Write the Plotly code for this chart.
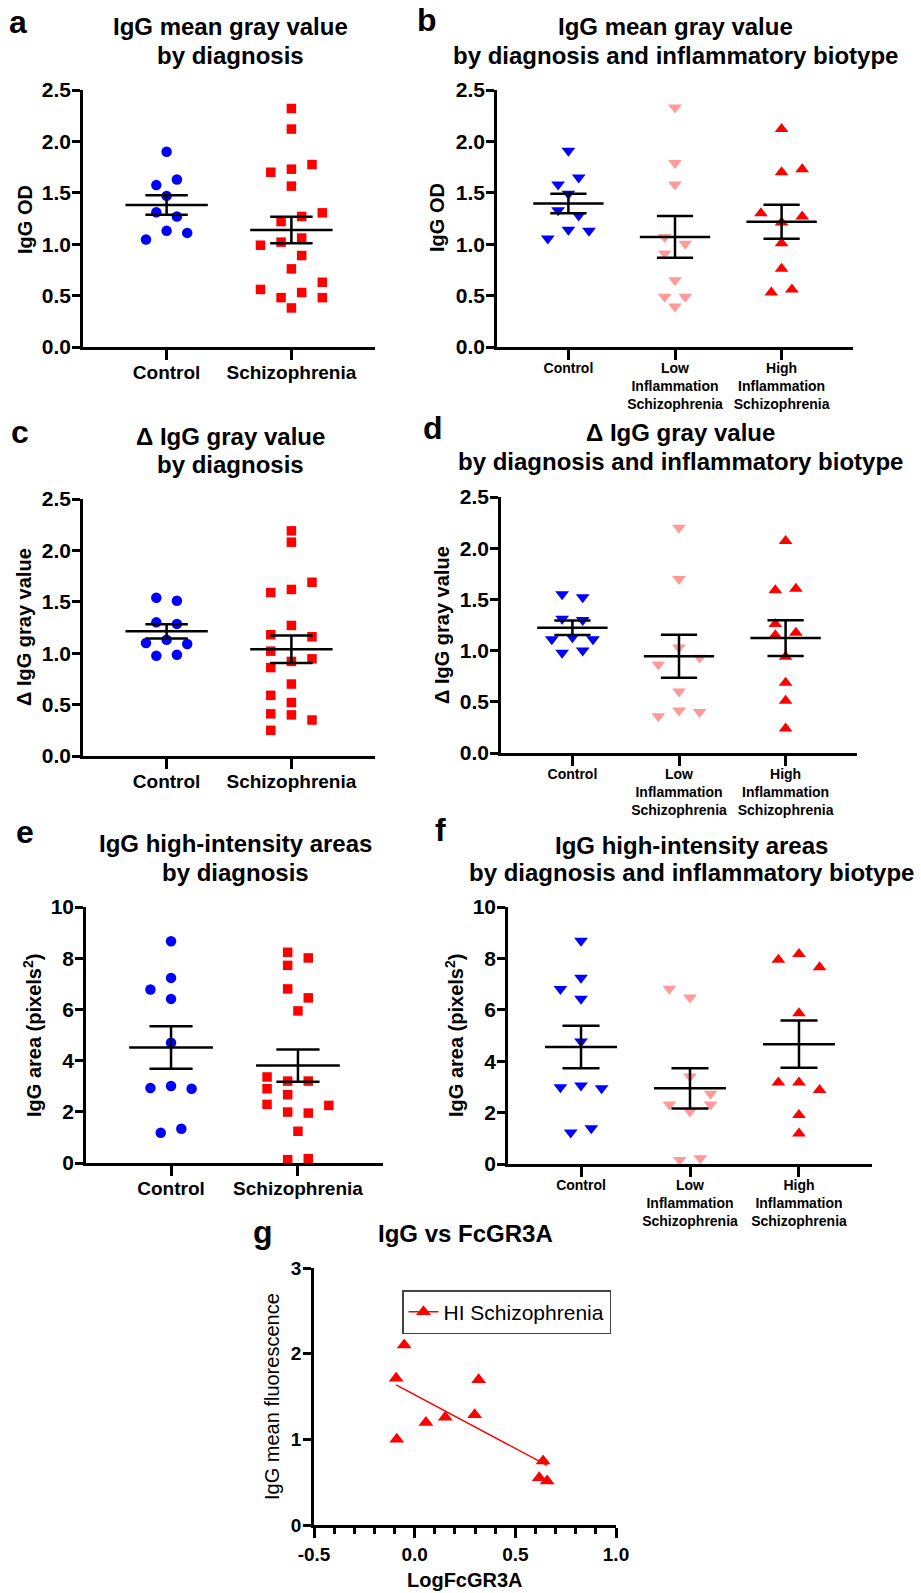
import numpy as np
import plotly.graph_objects as go

# ---------------- data ----------------
cats_2 = ["Control", "Schizophrenia"]
cats_3 = ["Control", "Low<br>Inflammation<br>Schizophrenia", "High<br>Inflammation<br>Schizophrenia"]

# panel a : IgG OD by diagnosis  (values + dot-plot column index)
a_ctrl = [1.90, 1.575, 1.63, 1.47, 1.31, 1.27, 1.13, 1.11, 1.045]
a_ctrl_col = [0, -1, 1, 0, -1, 1, 0, 2, -2]
a_scz = [2.32, 2.12, 1.70, 1.73, 1.775, 1.565, 1.22, 1.27, 1.305, 0.99,
         1.02, 1.06, 0.89, 0.76, 0.63, 0.56, 0.48, 0.53, 0.48, 0.38]
a_scz_col = [0, 0, -2, 0, 2, 0, -1, 1, 3, -3, -1, 1, 1, 0, 3, -3, -1, 1, 3, 0]

# panel b : IgG OD by biotype
b_ctrl = [1.91, 1.58, 1.65, 1.49, 1.33, 1.28, 1.14, 1.13, 1.055]
b_ctrl_col = [0, -1, 1, 0, -1, 1, 0, 2, -2]
b_low = [2.33, 1.79, 1.58, 1.07, 1.005, 0.91, 0.65, 0.49, 0.49, 0.395]
b_low_col = [0, 0, 0, -1, 1, -1, 0, -1, 1, 0]
b_high = [2.12, 1.70, 1.73, 1.30, 1.21, 1.27, 1.01, 0.76, 0.53, 0.56]
b_high_col = [0, 0, 2, -2, 0, 2, 0, 0, -1, 1]

# panel c : delta IgG gray value by diagnosis
c_ctrl = [1.54, 1.51, 1.30, 1.285, 1.13, 1.10, 1.09, 0.975, 0.985]
c_ctrl_col = [-1, 1, -1, 1, 0, -2, 2, -1, 1]
c_scz = [2.19, 2.08, 1.69, 1.59, 1.62, 1.27, 1.18, 1.16, 1.02, 0.92,
         0.945, 0.86, 0.70, 0.59, 0.52, 0.41, 0.40, 0.35, 0.25]
c_scz_col = [0, 0, 2, -2, 0, 0, -2, 2, -2, 0, 2, -2, 0, -2, 0, -2, 0, 2, -2]

# panel d : delta IgG gray value by biotype
d_ctrl = [1.55, 1.52, 1.31, 1.30, 1.13, 1.11, 1.11, 0.98, 1.00]
d_ctrl_col = [-1, 1, -1, 1, 0, -2, 2, -1, 1]
d_low = [2.20, 1.70, 1.03, 0.93, 0.865, 0.60, 0.415, 0.40, 0.36]
d_low_col = [0, 0, 0, 2, -2, 0, 0, 2, -2]
d_high = [2.07, 1.59, 1.605, 1.26, 1.15, 1.175, 0.94, 0.685, 0.51, 0.24]
d_high_col = [0, -1, 1, -1, -1, 1, 0, 0, 0, 0]

# panel e : IgG high-intensity area by diagnosis
e_ctrl = [8.66, 7.23, 6.78, 6.41, 4.70, 2.93, 3.01, 2.90, 1.18, 1.34]
e_ctrl_col = [0, 0, -2, 0, 0, -2, 0, 2, -1, 1]
e_scz = [8.23, 8.01, 7.72, 6.80, 6.45, 5.94, 3.36, 3.20, 3.20, 2.90,
         2.67, 2.29, 2.25, 1.99, 1.95, 1.24, 0.13, 0.17]
e_scz_col = [-1, 1, -1, -1, 1, 0, -3, -1, 1, -3, -1, -3, 3, -1, 1, 0, -1, 1]

# panel f : IgG high-intensity area by biotype
f_ctrl = [8.69, 7.25, 6.81, 6.43, 4.77, 2.99, 3.05, 2.95, 1.23, 1.39]
f_ctrl_col = [0, 0, -2, 0, 0, -2, 0, 2, -1, 1]
f_low = [6.82, 6.48, 3.40, 2.73, 2.32, 2.32, 2.04, 0.16, 0.22]
f_low_col = [-2, 0, 0, 2, -2, 2, 0, -1, 1]
f_high = [8.17, 7.95, 7.66, 5.87, 3.17, 3.17, 2.88, 1.91, 1.19]
f_high_col = [0, -2, 2, 0, -2, 0, 2, 0, 0]

# panel g : IgG vs FcGR3A (HI schizophrenia)
g_logfc = [-0.092, -0.052, -0.089, 0.056, 0.152, 0.298, 0.318, 0.638, 0.619, 0.658]
g_igg = [1.714, 2.10, 1.00, 1.196, 1.258, 1.286, 1.695, 0.748, 0.553, 0.514]
g_xticks = [-0.5, 0.0, 0.5, 1.0]
g_xticktext = ["-0.5", "0.0", "0.5", "1.0"]
g_yticks = [0, 1, 2, 3]

# ---------------- style ----------------
W, H = 921, 1593
FONT = "Liberation Sans, Arial, Helvetica, sans-serif"
BLUE, RED, PINK = "#0000FF", "#FF0000", "#FF9A9A"
LW = 2.5
JIT_PX = 10.3
PAD = 0.67

fig = go.Figure()
layout = dict(width=W, height=H, margin=dict(l=0, r=0, t=0, b=0, pad=0, autoexpand=False),
              paper_bgcolor="white", plot_bgcolor="white", showlegend=True,
              template="none")
annotations = []


def dx(x0, x1):
    return [x0 / W, x1 / W]


def dy(y0, y1):
    return [1 - y1 / H, 1 - y0 / H]


def axis_common():
    return dict(showline=True, linecolor="black", linewidth=LW, ticks="outside",
                ticklen=8, tickwidth=LW, tickcolor="black", showgrid=False,
                zeroline=False, fixedrange=True, automargin=False, mirror=False)


def add_text(x, y, text, size, bold=True, angle=0):
    annotations.append(dict(x=x / W, y=1 - y / H, xref="paper", yref="paper",
                            text=text, showarrow=False, textangle=angle,
                            xanchor="center", yanchor="middle",
                            font=dict(family=FONT, size=size, color="black",
                                      weight="bold" if bold else "normal")))


def dot_panel(idx, box, ticktext, catsize, ymax, dtick, yfmt, groups):
    x0, x1, y0, y1 = box
    xa = "x" if idx == 1 else f"x{idx}"
    ya = "y" if idx == 1 else f"y{idx}"
    ncat = len(ticktext)
    rng = [-PAD, ncat - 1 + PAD]
    unit_px = (x1 - x0) / (rng[1] - rng[0])
    jit = JIT_PX / unit_px
    for gi, (vals, cols, color, sym, size) in enumerate(groups):
        xs = [gi + c * jit for c in cols]
        fig.add_trace(go.Scatter(x=xs, y=vals, mode="markers", xaxis=xa, yaxis=ya,
                                 marker=dict(color=color, symbol=sym, size=size, line_width=0),
                                 showlegend=False, cliponaxis=False, hoverinfo="y"))
    lx, ly = [], []
    for gi, (vals, cols, color, sym, size) in enumerate(groups):
        v = np.array(vals)
        m = v.mean()
        s = v.std(ddof=1) / np.sqrt(len(v))
        lx += [gi - 0.33, gi + 0.33, None, gi - 0.17, gi + 0.17, None,
               gi - 0.17, gi + 0.17, None, gi, gi, None]
        ly += [m, m, None, m + s, m + s, None, m - s, m - s, None, m - s, m + s, None]
    fig.add_trace(go.Scatter(x=lx, y=ly, mode="lines", xaxis=xa, yaxis=ya,
                             line=dict(color="black", width=LW),
                             showlegend=False, cliponaxis=False, hoverinfo="skip"))
    xk = "xaxis" if idx == 1 else f"xaxis{idx}"
    yk = "yaxis" if idx == 1 else f"yaxis{idx}"
    xax = axis_common()
    xax.update(domain=dx(x0, x1), range=rng, anchor=ya, tickmode="array",
               tickvals=list(range(ncat)), ticktext=ticktext, ticklen=10,
               ticklabelstandoff=-4,
               tickfont=dict(family=FONT, size=catsize, color="black", weight="bold"))
    yax = axis_common()
    yax.update(domain=dy(y0, y1), range=[0, ymax], anchor=xa, dtick=dtick, tick0=0,
               tickformat=yfmt, ticklabelstandoff=-3,
               tickfont=dict(family=FONT, size=21, color="black", weight="bold"))
    layout[xk] = xax
    layout[yk] = yax


# panel a
dot_panel(1, (83, 375, 90, 347), cats_2, 19, 2.5, 0.5, ".1f",
          [(a_ctrl, a_ctrl_col, BLUE, "circle", 10.5),
           (a_scz, a_scz_col, RED, "square", 9.5)])
# panel b
dot_panel(2, (497, 853, 90, 347), cats_3, 14, 2.5, 0.5, ".1f",
          [(b_ctrl, b_ctrl_col, BLUE, "triangle-down", 12),
           (b_low, b_low_col, PINK, "triangle-down", 12),
           (b_high, b_high_col, RED, "triangle-up", 12)])
# panel c
dot_panel(3, (83, 375, 499, 756), cats_2, 19, 2.5, 0.5, ".1f",
          [(c_ctrl, c_ctrl_col, BLUE, "circle", 10.5),
           (c_scz, c_scz_col, RED, "square", 9.5)])
# panel d
dot_panel(4, (501, 857, 497, 753), cats_3, 14, 2.5, 0.5, ".1f",
          [(d_ctrl, d_ctrl_col, BLUE, "triangle-down", 12),
           (d_low, d_low_col, PINK, "triangle-down", 12),
           (d_high, d_high_col, RED, "triangle-up", 12)])
# panel e
dot_panel(5, (86, 383, 907, 1163), cats_2, 19, 10, 2, "d",
          [(e_ctrl, e_ctrl_col, BLUE, "circle", 10.5),
           (e_scz, e_scz_col, RED, "square", 9.5)])
# panel f
dot_panel(6, (508, 872, 907, 1164), cats_3, 14, 10, 2, "d",
          [(f_ctrl, f_ctrl_col, BLUE, "triangle-down", 12),
           (f_low, f_low_col, PINK, "triangle-down", 12),
           (f_high, f_high_col, RED, "triangle-up", 12)])

# panel g
gx = np.array(g_logfc)
gy = np.array(g_igg)
slope, intercept = np.polyfit(gx, gy, 1)
fx = [gx.min(), gx.max()]
fy = [slope * v + intercept for v in fx]
fig.add_trace(go.Scatter(x=fx, y=fy, mode="lines", xaxis="x7", yaxis="y7",
                         line=dict(color=RED, width=1.5), showlegend=False,
                         hoverinfo="skip"))
fig.add_trace(go.Scatter(x=g_logfc, y=g_igg, mode="markers", xaxis="x7", yaxis="y7",
                         marker=dict(color=RED, symbol="triangle-up", size=13, line_width=0),
                         showlegend=False, cliponaxis=False))
fig.add_trace(go.Scatter(x=[None], y=[None], mode="lines+markers", xaxis="x7", yaxis="y7",
                         name="HI Schizophrenia",
                         line=dict(color=RED, width=1.5),
                         marker=dict(color=RED, symbol="triangle-up", size=13)))
gxa = axis_common()
gxa.update(domain=dx(314, 616), range=[-0.5, 1.0], anchor="y7", tickmode="array",
           tickvals=g_xticks, ticktext=g_xticktext, ticklen=10,
           minor=dict(dtick=0.1, tick0=0, ticklen=6, tickwidth=LW, tickcolor="black",
                      ticks="outside", showgrid=False),
           tickfont=dict(family=FONT, size=19, color="black", weight="bold"))
gya = axis_common()
gya.update(domain=dy(1268, 1525), range=[0, 3], anchor="x7", tickmode="array",
           tickvals=g_yticks, ticklen=8, ticklabelstandoff=-2,
           tickfont=dict(family=FONT, size=19, color="black", weight="bold"))
layout["xaxis7"] = gxa
layout["yaxis7"] = gya
layout["legend"] = dict(x=402 / W, y=1 - 1290 / H, xanchor="left", yanchor="top",
                        bordercolor="#444444", borderwidth=1.5, bgcolor="white",
                        font=dict(family=FONT, size=21, color="black"),
                        itemwidth=30, tracegroupgap=0)

# ---------------- texts ----------------
# panel letters
for x, y, t in [(18, 22, "a"), (427, 20, "b"), (20, 432, "c"), (433, 428, "d"),
                (25, 832, "e"), (440, 830, "f"), (263, 1232, "g")]:
    add_text(x, y, t, 32)

# titles
add_text(230, 27, "IgG mean gray value", 24)
add_text(230, 55, "by diagnosis", 24)
add_text(675, 27, "IgG mean gray value", 24)
add_text(675, 55, "by diagnosis and inflammatory biotype", 24)
add_text(230, 437, "Δ IgG gray value", 24)
add_text(230, 465, "by diagnosis", 24)
add_text(680, 433, "Δ IgG gray value", 24)
add_text(680, 462, "by diagnosis and inflammatory biotype", 24)
add_text(235, 843, "IgG high-intensity areas", 24)
add_text(235, 872, "by diagnosis", 24)
add_text(691, 845, "IgG high-intensity areas", 24)
add_text(691, 873, "by diagnosis and inflammatory biotype", 24)
add_text(465, 1233, "IgG vs FcGR3A", 24)

# y-axis titles
add_text(25, 220, "IgG OD", 20, angle=-90)
add_text(437, 218, "IgG OD", 20, angle=-90)
add_text(24, 627, "Δ IgG gray value", 20, angle=-90)
add_text(442, 625, "Δ IgG gray value", 20, angle=-90)
add_text(32, 1036, "IgG area (pixels<sup>2</sup>)", 20, angle=-90)
add_text(454, 1036, "IgG area (pixels<sup>2</sup>)", 20, angle=-90)
add_text(272, 1397, "IgG mean fluorescence", 20, bold=False, angle=-90)
add_text(465, 1580, "LogFcGR3A", 20)

layout["annotations"] = annotations
fig.update_layout(**layout)
fig.write_html("out.html", config={"displayModeBar": False},
               post_script="document.body.style.margin='0';"
                           "document.body.style.padding='0';"
                           "document.body.style.overflow='hidden';")
